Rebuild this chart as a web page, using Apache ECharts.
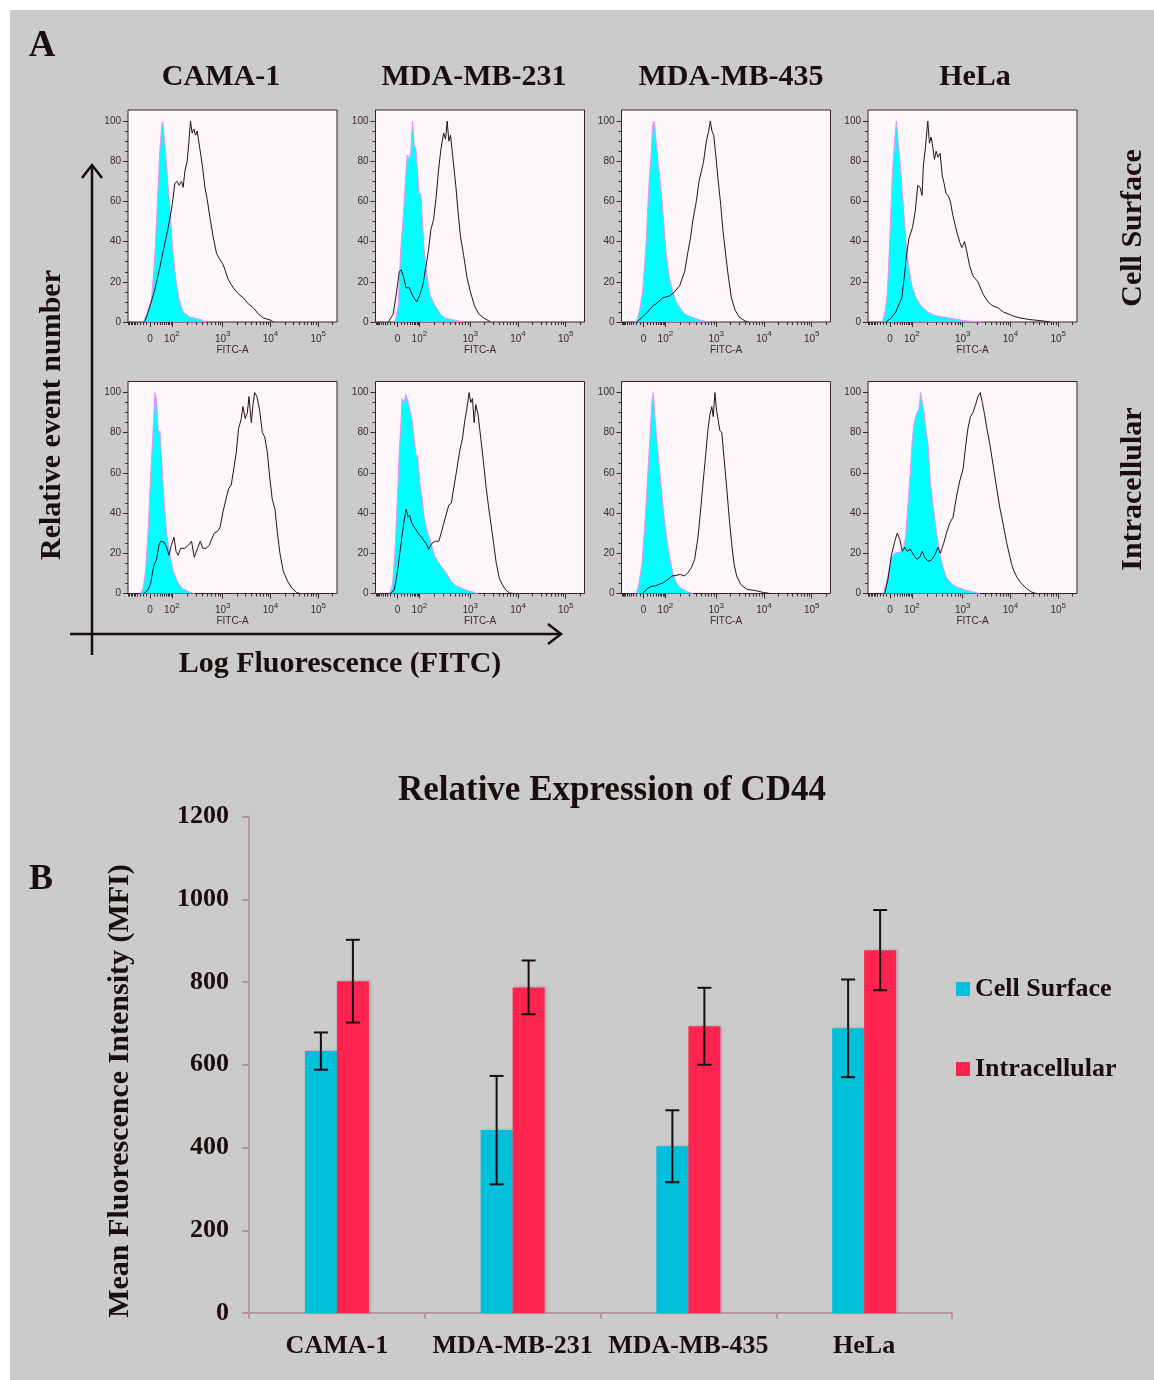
<!DOCTYPE html>
<html>
<head>
<meta charset="utf-8">
<title>CD44 expression</title>
<script src="https://cdn.jsdelivr.net/npm/echarts@6/dist/echarts.min.js"></script>
<style>
  html, body { margin: 0; padding: 0; background: #ffffff; }
  #chart { width: 1154px; height: 1380px; }
</style>
</head>
<body>
<div id="chart"></div>
<script>
// ---------- Panel A: flow cytometry histograms ----------
// Each curve: [FITC display channel (0-100 across the plot), % of max events]
const cellLines = ['CAMA-1', 'MDA-MB-231', 'MDA-MB-435', 'HeLa'];
const stainings = ['Cell Surface', 'Intracellular'];

// Cell surface staining (isotype = filled cyan, CD44 = black outline)
const camaSurfaceIso = [[7.2,0],[9.1,4],[11.2,11],[12.8,32],[13.9,56],[15.2,85],[16.2,98],[16.6,100],[17.8,87],[18.9,72],[20,57],[21.3,37],[22.9,21],[24.5,11],[26.4,5],[29.6,2.5],[34.4,1.3],[37.6,0]];
const camaSurfaceCd44 = [[8,0],[10.4,7.5],[12.8,16],[15.2,27],[17.6,39],[19.2,47],[20.8,56],[21.6,62],[22.4,69],[23.5,70],[24.5,68],[25.6,70],[26.4,67],[27.2,75],[28.3,80],[29.1,89],[29.9,100],[30.7,94],[31.5,96],[32.3,93],[33.1,95],[34.4,86],[35.7,77],[36.8,67],[37.9,61],[39.2,52],[40.8,42],[42.4,34],[44,31],[45.3,29],[46.4,26],[48,21],[50.4,17],[52.8,14],[55.2,12],[57.6,9],[60,7],[62.4,4],[64.8,2],[68,1],[69.6,0]];
const mda231SurfaceIso = [[9.3,0],[10.9,8],[12,35],[13.3,53],[14.6,75],[15.2,83],[16.2,81],[16.9,85],[17.7,100],[18.5,88],[19.4,86],[20.1,75],[21,63],[21.7,64],[22.3,53],[23.3,36],[24.6,23],[26.2,13],[28.6,8],[31,4],[33.4,2],[37.4,1],[42.2,0]];
const mda231SurfaceCd44 = [[6.1,0],[8.5,4],[10.1,15],[11.4,25],[12.2,26],[13.3,23],[14.6,17],[16.2,17],[17.8,13],[19.7,10],[21,13],[22.6,18],[24.2,28],[25.4,36],[26.5,46],[27.8,51],[29.1,63],[30.2,76],[31.3,86],[32.6,94],[33.5,91],[34.3,100],[35.1,90],[35.9,93],[37.1,81],[38.4,68],[39.5,55],[40.6,43],[42.2,33],[43.8,22],[45.4,15],[47.4,8],[49.4,4],[51.8,2],[55.1,0]];
const mda435SurfaceIso = [[7.2,0],[8.5,5],[10.1,15],[11.7,38],[13,66],[14.1,83],[14.9,98],[15.7,100],[16.5,91],[17.7,78],[18.9,66],[20.1,51],[21.3,35],[22.9,22],[24.6,15],[26.2,10],[28.1,7],[30.2,4],[33.4,2.5],[37.4,1],[42.2,0]];
const mda435SurfaceCd44 = [[7.2,0],[10.1,2.5],[12.5,5],[14.9,8],[16.5,9],[19.7,12],[23,13],[25.4,15],[27.8,18],[30.2,25],[31.8,35],[32.9,41],[34.2,51],[35.8,60],[37.1,70],[38.2,75],[39.3,80],[40.6,90],[41.7,95],[42.5,100],[43.3,95],[44.1,93],[45.1,83],[46.2,71],[47.5,58],[48.6,45],[49.9,33],[51.2,22],[52.6,12],[54.3,6],[56.3,2.5],[59.1,0.5],[60.7,0]];
const helaSurfaceIso = [[6.9,0],[8.2,5],[9.3,15],[10.4,41],[11.7,75],[12.8,91],[13.6,100],[14.6,88],[15.7,75],[16.9,58],[18.1,41],[19.4,28],[21,18],[23,12],[25.4,8],[28.6,5],[31.8,3.3],[35.8,2.5],[40.6,1.7],[45.4,0.8],[50.2,0.3],[55,0]];
const helaSurfaceCd44 = [[8.5,0],[10.9,1.7],[13.3,5],[14.9,9],[16.2,12],[17.3,22],[18.5,34],[19.7,42],[21.3,47],[22.6,55],[23.8,68],[24.9,67],[25.9,63],[26.5,78],[27.5,87],[28.6,100],[29.4,89],[30.2,92],[31,87],[31.8,81],[32.6,85],[33.5,82],[34.5,84],[35.5,73],[36.4,69],[37.3,64],[38.3,63],[39.4,60],[40.6,53],[42.2,46],[43.8,40],[44.9,37],[46.2,40],[47.3,35],[48.6,28],[50.2,23],[52.6,20],[55,14],[57.4,10],[59.8,8],[62.3,7],[64.7,5],[67.1,4],[69.5,3],[72.7,2],[77.5,1.2],[83.9,0.5],[87.2,0]];

// Intracellular staining
const camaIntraIso = [[5.9,0],[7.2,2.5],[8.4,11],[9.5,29],[10.8,58],[12.1,83],[12.9,100],[13.7,96],[14.5,80],[15.3,81],[16.2,65],[17.2,47],[18.5,30],[20.1,19],[21.7,11],[23.6,6],[26,2.5],[29.3,0.8],[31.7,0]];
const camaIntraCd44 = [[7.6,0],[9.5,1.6],[10.8,5],[12.4,14],[13.7,17],[14.8,24],[15.6,26],[17.2,25.5],[18.5,23],[19.6,19],[20.7,24],[22,28],[23,21],[24,19],[25.2,22.5],[27.2,22.5],[28.9,24],[30.4,26],[31.7,18],[33.3,22.5],[34.6,26],[35.7,22.5],[37.3,22.5],[38.9,24],[40,27],[41.3,30],[42.9,31],[44.1,33],[45.3,40],[46.9,47],[48.1,52],[49.4,54],[50.6,62],[51.8,70],[52.9,82],[54.2,87],[55,93],[56.1,87],[57.1,90],[57.9,98],[59,85],[59.8,94],[60.6,100],[61.7,98],[63,91],[64.3,80],[65.4,78],[66.7,70],[67.8,58],[69,47],[70.3,42],[71.5,30],[72.7,20],[74.3,11],[76.4,6],[78.3,2.8],[80.7,0.5],[82.3,0]];
const mda231IntraIso = [[6.9,0],[8.2,5],[9.3,21],[10.5,48],[11.3,69],[12.1,84],[12.7,97],[13.7,95],[14.5,99],[15.5,96],[16.6,91],[17.6,86],[18.5,77],[19.5,68],[20.2,69],[21.1,56],[22.2,48],[23.3,38],[25,30],[26.6,25],[28.2,19],[29.8,16],[31.9,13],[34,10],[35.9,6.6],[38.3,4],[41.5,2.5],[44.8,1.3],[48.8,0]];
const mda231IntraCd44 = [[6.9,0],[8.9,1.6],[10.1,8],[11.4,18],[12.6,28],[13.7,36],[14.7,42],[15.5,38],[16.3,39],[17.4,35],[18.5,33],[19.8,31],[21.1,29],[22.2,28],[23.3,26],[24.3,25],[25.4,22],[27,25],[28.7,26],[30.3,26],[31.4,30],[32.7,35],[34,40],[35.1,44],[36.3,45],[37.5,53],[38.8,61],[40.3,71],[41.6,77],[42.7,86],[43.6,91],[44.8,100],[45.6,95],[46.4,97],[47.2,85],[48,94],[49.1,89],[50.4,77],[51.7,65],[52.8,54],[54.1,43],[55.2,35],[56.5,25],[57.8,15],[59.3,7.4],[60.9,4],[62.5,1.6],[64.1,0.3],[65.7,0]];
const mda435IntraIso = [[7,0],[8.2,4],[9.8,15],[11.4,38],[12.5,58],[13.6,78],[14.6,96],[15.2,100],[16,88],[16.8,78],[18.1,63],[19.4,48],[20.5,37],[21.6,28],[22.9,19],[24.6,10],[26.2,5.4],[28.6,2.5],[31.8,0.8],[34.2,0]];
const mda435IntraCd44 = [[10.1,0],[12,2.1],[14.1,3.5],[16.2,3.8],[18.1,4.6],[20.1,5.4],[22.2,7],[24.2,8.7],[26.2,9],[28.1,9.5],[30.2,8.7],[31.8,10.4],[33.4,12.8],[35,17],[36.6,28],[37.9,42],[39,55],[40.2,68],[41.3,81],[42.3,89],[43.2,93],[43.9,88],[44.7,100],[45.5,91],[46.3,86],[47.1,81],[48,80],[49,68],[50.3,53],[51.5,38],[52.7,25],[53.8,15],[55.1,8.7],[57,4.6],[59.9,2.1],[64.7,1.3],[67.9,0.5],[71.1,0]];
const helaIntraIso = [[7.2,0],[8.8,5],[10,11.5],[11.2,18],[12.8,20],[15.2,20.6],[16.7,21.4],[18,28],[19.1,44],[20.3,61],[21.2,77],[22.3,86],[23.4,90],[24.4,92],[25.2,100],[26,95],[26.8,90],[27.9,80],[28.7,75],[29.8,56],[31.1,44],[32.7,31],[34.3,20],[35.9,13],[37.5,8],[39.9,5],[42.3,3.3],[45.5,2],[50.2,0.8],[53.4,0]];
const helaIntraCd44 = [[8,0],[9.6,7.4],[11.2,19],[12.8,26],[14,30],[15.2,27],[16.4,21],[17.6,23],[18.8,21],[20.3,22],[21.9,19],[23.4,17],[24.7,18],[26,21],[27.1,18],[28.7,16],[30.3,16.6],[31.9,19],[33.5,23],[34.6,20],[36.2,25],[37.5,30],[39.1,35],[40.7,38],[42.3,48],[43.9,56],[45.5,62],[46.8,74],[47.8,82],[49,88],[50.2,90],[51.5,94],[52.6,98],[53.7,100],[54.7,95],[55.8,89],[56.9,82],[58.2,75],[59.4,67],[60.6,59],[61.8,51],[63,43],[64.6,35],[66.2,26],[67.5,20],[68.6,15],[69.7,11.5],[71.3,8],[73.4,5],[75.8,2.5],[78.1,0.8],[80.5,0]];

// FITC-A axis: decade labels and where they sit on the 0-100 display scale
const fitcLabels = ['0', '10|2', '10|3', '10|4', '10|5'];
const fitcLabelPos = [10.6, 21, 45.3, 68.2, 91];
const countTicks = [0, 20, 40, 60, 80, 100];

// ---------- Panel B: mean fluorescence intensity ----------
const mfiSurface = [633, 442, 403, 688];
const mfiSurfaceErr = [45, 131, 87, 118];
const mfiIntra = [802, 787, 693, 877];
const mfiIntraErr = [100, 65, 93, 97];
const mfiTicks = [0, 200, 400, 600, 800, 1000, 1200];

// ---------- styling ----------
const INK = '#1a0d0d';
const SERIF = "'Liberation Serif', 'Times New Roman', serif";
const SANS = "'Liberation Sans', Arial, sans-serif";
const AXIS_INK = '#3c2830';
const CYAN = '#00ffff';
const PINK_EDGE = '#f38cf0';
const BAR_CYAN = '#00bfda';
const BAR_RED = '#ff244f';
const BAR_AXIS = '#b6989f';

const histograms = [
  [camaSurfaceIso, camaSurfaceCd44], [mda231SurfaceIso, mda231SurfaceCd44],
  [mda435SurfaceIso, mda435SurfaceCd44], [helaSurfaceIso, helaSurfaceCd44],
  [camaIntraIso, camaIntraCd44], [mda231IntraIso, mda231IntraCd44],
  [mda435IntraIso, mda435IntraCd44], [helaIntraIso, helaIntraCd44]
];

const colLeft = [128, 375.5, 621.5, 868];
const rowTop = [110, 381.5];
const boxW = 209, boxH = 212;

// minor tick marks of the biexponential FITC scale
function fitcMinorTicks() {
  const out = [];
  const zero = fitcLabelPos[0], p100 = fitcLabelPos[1], w = 30;
  const lin = v => zero + Math.sign(v) * (p100 - zero) * Math.asinh(Math.abs(v) / w) / Math.asinh(100 / w);
  for (let v = -100; v <= 90; v += 10) if (v !== 0) out.push(lin(v));
  for (let d = 1; d < fitcLabelPos.length; d++) {
    const a = fitcLabelPos[d];
    const span = d + 1 < fitcLabelPos.length ? fitcLabelPos[d + 1] - a : fitcLabelPos[d] - fitcLabelPos[d - 1];
    for (let k = 2; k <= 9; k++) {
      const p = a + Math.log10(k) * span;
      if (p < 100) out.push(p);
    }
  }
  return out.filter(p => p > 0 && p < 100);
}
const fitcMinor = fitcMinorTicks();
const countMinor = [];
for (let v = 5; v < 100; v += 5) if (v % 20) countMinor.push(v);

const grids = [], xAxes = [], yAxes = [], series = [];

histograms.forEach((pair, h) => {
  const row = Math.floor(h / 4), col = h % 4;
  grids.push({
    left: colLeft[col], top: rowTop[row], width: boxW, height: boxH,
    show: true, backgroundColor: '#fdf7fc', borderColor: '#3a1f2c', borderWidth: 1
  });
  // major FITC axis with decade labels
  xAxes.push({
    type: 'value', gridIndex: h, min: 0, max: 100, position: 'bottom',
    axisLine: { show: false }, splitLine: { show: false },
    axisTick: { show: true, customValues: fitcLabelPos, length: 5, lineStyle: { color: AXIS_INK } },
    axisLabel: {
      customValues: fitcLabelPos, margin: 8,
      formatter: v => {
        let best = 0;
        fitcLabelPos.forEach((p, i) => { if (Math.abs(p - v) < Math.abs(fitcLabelPos[best] - v)) best = i; });
        const parts = fitcLabels[best].split('|');
        return parts.length > 1 ? '{b|' + parts[0] + '}{s|' + parts[1] + '}' : '{b|' + parts[0] + '}';
      },
      rich: {
        b: { fontFamily: SANS, fontSize: 10, color: AXIS_INK, lineHeight: 14, verticalAlign: 'bottom' },
        s: { fontFamily: SANS, fontSize: 8, color: AXIS_INK, lineHeight: 8, verticalAlign: 'top' }
      }
    },
    name: 'FITC-A', nameLocation: 'middle', nameGap: 21,
    nameTextStyle: { fontFamily: SANS, fontSize: 10, color: AXIS_INK }
  });
  // minor FITC ticks
  xAxes.push({
    type: 'value', gridIndex: h, min: 0, max: 100, position: 'bottom',
    axisLine: { show: false }, splitLine: { show: false }, axisLabel: { show: false },
    axisTick: { show: true, customValues: fitcMinor, length: 3, lineStyle: { color: AXIS_INK } }
  });
  // event count axis
  yAxes.push({
    type: 'value', gridIndex: h, min: 0, max: 105.5, position: 'left',
    axisLine: { show: false }, splitLine: { show: false },
    axisTick: { show: true, customValues: countTicks, length: 5, lineStyle: { color: AXIS_INK } },
    axisLabel: { customValues: countTicks, margin: 7, fontFamily: SANS, fontSize: 10, color: AXIS_INK }
  });
  yAxes.push({
    type: 'value', gridIndex: h, min: 0, max: 105.5, position: 'left',
    axisLine: { show: false }, splitLine: { show: false }, axisLabel: { show: false },
    axisTick: { show: true, customValues: countMinor, length: 3, lineStyle: { color: AXIS_INK } }
  });
  series.push({
    type: 'line', name: stainings[row] + ' isotype ' + cellLines[col],
    xAxisIndex: 2 * h, yAxisIndex: 2 * h, data: pair[0],
    showSymbol: false, symbol: 'none', silent: true, z: 2,
    lineStyle: { color: PINK_EDGE, width: 1 },
    areaStyle: { color: CYAN, opacity: 1 }
  });
  series.push({
    type: 'line', name: stainings[row] + ' CD44 ' + cellLines[col],
    xAxisIndex: 2 * h, yAxisIndex: 2 * h, data: pair[1],
    showSymbol: false, symbol: 'none', silent: true, z: 3,
    lineStyle: { color: '#2a1018', width: 1 }
  });
});

// ---------- Panel B grid ----------
const B = histograms.length;
grids.push({ left: 249, top: 816.5, width: 703, height: 496.5 });
xAxes.push({
  type: 'category', gridIndex: B, data: cellLines, position: 'bottom',
  axisLine: { show: true, lineStyle: { color: BAR_AXIS, width: 2 } },
  axisTick: { show: true, interval: 0, length: 6, alignWithLabel: false, lineStyle: { color: BAR_AXIS, width: 2 } },
  axisLabel: { interval: 0, margin: 20, fontFamily: SERIF, fontWeight: 'bold', fontSize: 26, color: INK },
  splitLine: { show: false }
});
yAxes.push({
  type: 'value', gridIndex: B, min: 0, max: 1200, interval: 200, position: 'left',
  axisLine: { show: true, lineStyle: { color: BAR_AXIS, width: 2 } },
  axisTick: { show: true, length: 7, lineStyle: { color: BAR_AXIS, width: 2 } },
  axisLabel: { margin: 20, fontFamily: SERIF, fontWeight: 'bold', fontSize: 26, color: INK,
    formatter: v => String(v) },
  splitLine: { show: false }
});

const BAR_W = 32;
series.push({
  type: 'bar', name: 'Cell Surface', xAxisIndex: 2 * B, yAxisIndex: 2 * B,
  data: mfiSurface, barWidth: BAR_W, barGap: '0%',
  itemStyle: { color: BAR_CYAN, shadowBlur: 3, shadowColor: 'rgba(0,0,0,0.18)', shadowOffsetX: 2 }
});
series.push({
  type: 'bar', name: 'Intracellular', xAxisIndex: 2 * B, yAxisIndex: 2 * B,
  data: mfiIntra, barWidth: BAR_W, barGap: '0%',
  itemStyle: { color: BAR_RED, shadowBlur: 3, shadowColor: 'rgba(0,0,0,0.18)', shadowOffsetX: 2 }
});

function errorBars(means, errs, offset) {
  return {
    type: 'custom', xAxisIndex: 2 * B, yAxisIndex: 2 * B, z: 5, silent: true,
    data: means.map((m, i) => [i, m - errs[i], m + errs[i]]),
    renderItem: (params, api) => {
      const lo = api.coord([api.value(0), api.value(1)]);
      const hi = api.coord([api.value(0), api.value(2)]);
      const x = lo[0] + offset, cap = 7;
      const st = { stroke: INK, lineWidth: 2 };
      return {
        type: 'group', children: [
          { type: 'line', shape: { x1: x, y1: hi[1], x2: x, y2: lo[1] }, style: st },
          { type: 'line', shape: { x1: x - cap, y1: hi[1], x2: x + cap, y2: hi[1] }, style: st },
          { type: 'line', shape: { x1: x - cap, y1: lo[1], x2: x + cap, y2: lo[1] }, style: st }
        ]
      };
    }
  };
}
series.push(errorBars(mfiSurface, mfiSurfaceErr, -BAR_W / 2));
series.push(errorBars(mfiIntra, mfiIntraErr, BAR_W / 2));

// ---------- figure text and arrows ----------
const boldSerif = size => 'bold ' + size + 'px ' + SERIF;
function label(text, x, y, size, rotate) {
  return {
    type: 'text', x: x, y: y, rotation: rotate ? Math.PI / 2 : 0, z: 10,
    style: { text: text, font: boldSerif(size), fill: INK, align: 'center', verticalAlign: 'middle' }
  };
}
const colTitleX = [221, 474, 731, 975];
const graphics = [
  { type: 'rect', shape: { x: 0, y: 0, width: 1154, height: 10 }, style: { fill: '#ffffff' }, z: 1 },
  { type: 'rect', shape: { x: 0, y: 0, width: 10, height: 1380 }, style: { fill: '#ffffff' }, z: 1 },
  label('A', 42, 46, 37),
  label('B', 41, 880, 36),
  label(stainings[0], 1133, 228, 30, true),
  label(stainings[1], 1133, 489, 30, true),
  label('Relative event number', 52, 415, 30, true),
  label('Log Fluorescence (FITC)', 340, 664, 30),
  label('Relative Expression of CD44', 612, 791, 35),
  label('Mean Fluorescence Intensity (MFI)', 120, 1091, 30, true),
  // axis arrows
  { type: 'polyline', z: 10, shape: { points: [[92, 655], [92, 166]] }, style: { stroke: INK, lineWidth: 2.5, fill: null } },
  { type: 'polyline', z: 10, shape: { points: [[82, 178], [92, 165], [102, 178]] }, style: { stroke: INK, lineWidth: 2.5, fill: null } },
  { type: 'polyline', z: 10, shape: { points: [[70, 634], [560, 634]] }, style: { stroke: INK, lineWidth: 2.5, fill: null } },
  { type: 'polyline', z: 10, shape: { points: [[548, 624], [561, 634], [548, 644]] }, style: { stroke: INK, lineWidth: 2.5, fill: null } }
];
cellLines.forEach((name, i) => graphics.push(label(name, colTitleX[i], 77, 30)));

const chart = echarts.init(document.getElementById('chart'), null, { renderer: 'canvas' });
chart.setOption({
  backgroundColor: '#cbcbcb',
  animation: false,
  grid: grids,
  xAxis: xAxes,
  yAxis: yAxes,
  series: series,
  legend: {
    data: ['Cell Surface', 'Intracellular'],
    orient: 'vertical', left: 956, top: 976, padding: 0,
    icon: 'rect', itemWidth: 14, itemHeight: 14, itemGap: 54,
    selectedMode: false,
    textStyle: { fontFamily: SERIF, fontWeight: 'bold', fontSize: 26, lineHeight: 26, color: INK }
  },
  graphic: graphics
});
</script>
</body>
</html>
